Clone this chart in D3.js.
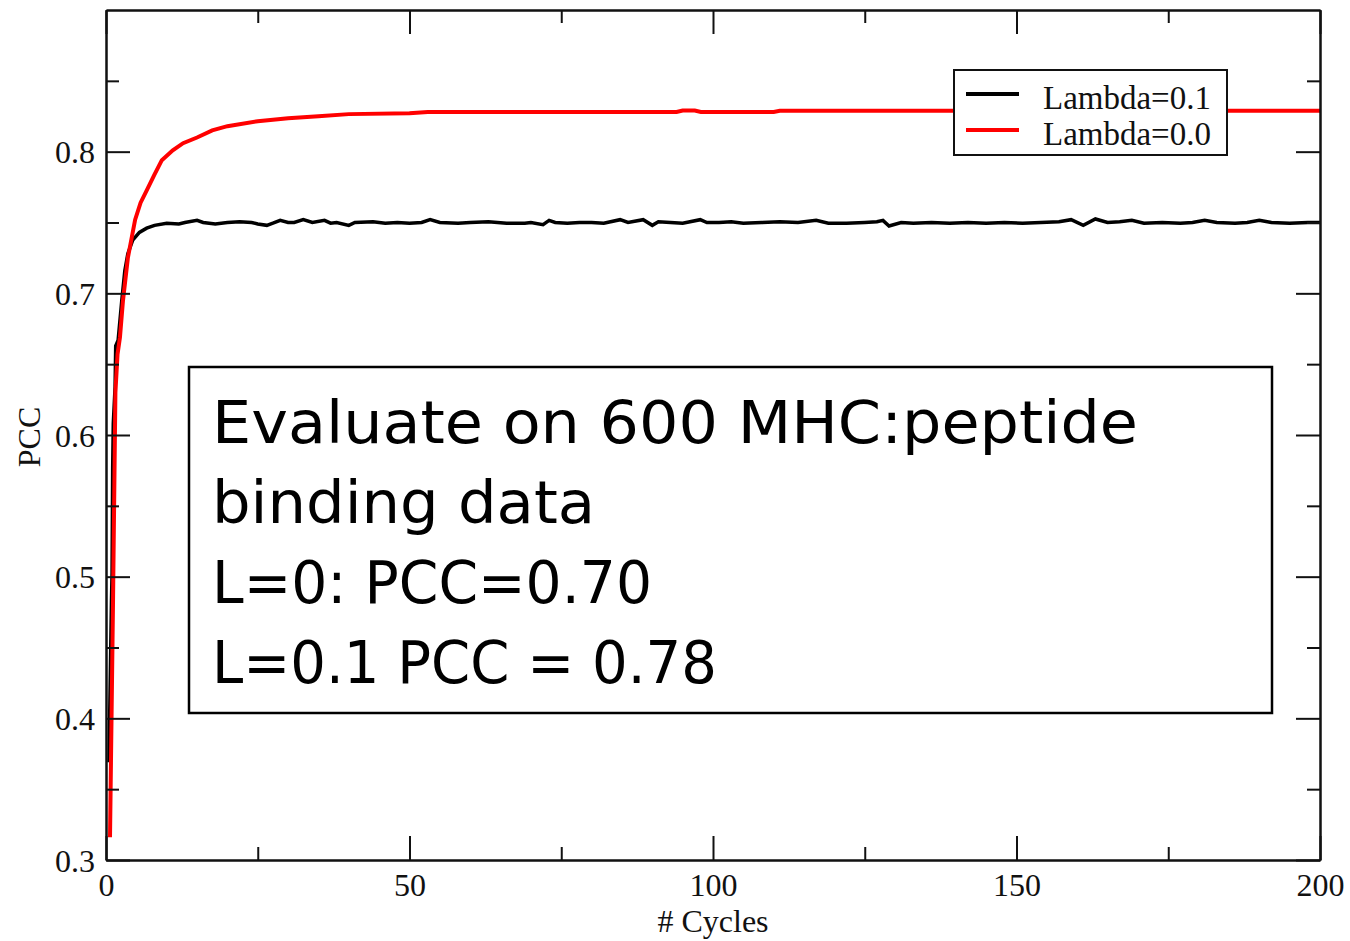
<!DOCTYPE html>
<html>
<head>
<meta charset="utf-8">
<script src="https://cdn.jsdelivr.net/npm/d3@7"></script>
<style>
  body { margin: 0; background: #fff; }
  svg { display: block; }
  .tick-label { font-family: 'Liberation Serif', 'Times New Roman', serif; font-size: 32px; fill: #111; }
  .legend-label { font-family: 'Liberation Serif', 'Times New Roman', serif; font-size: 33px; fill: #111; }
  .note { font-family: 'DejaVu Sans', sans-serif; fill: #000; }
</style>
</head>
<body>
<div class="display"></div>
<script>
// PCC vs training cycles for two lambda values

const WIDTH = 1350;
const HEIGHT = 941;
const PLOT_LEFT = 106;
const PLOT_RIGHT = 1320;
const PLOT_TOP = 10;
const PLOT_BOTTOM = 860;

const MAJOR_TICK = 24;
const MINOR_TICK = 13;

// ticks
const xMajorTicks = [0, 50, 100, 150, 200];
const xMinorTicks = [25, 75, 125, 175];
const yMajorTicks = [0.3, 0.4, 0.5, 0.6, 0.7, 0.8];
const yMinorTicks = [0.35, 0.45, 0.55, 0.65, 0.75, 0.85];

// Lambda=0.1 (black)
const lambda01Cycles = [0.5, 0.6, 0.9, 1.0, 1.1, 1.2, 1.5, 1.6, 2.0, 2.6, 3.1, 3.6, 4.4, 5.5, 6.7, 8, 10, 12, 13, 15, 16, 18, 20,
  22, 24, 25, 26.5, 27.5, 28.7, 30, 31, 32.5, 34, 36, 37, 38, 40, 41, 44, 46, 48, 50, 52, 53.4, 55, 58, 60, 63, 66, 69, 70,
  72, 73, 74, 76, 78, 80, 82, 84.7, 86, 88.5, 90, 91, 93, 95, 97.9, 99, 101, 103, 105, 108, 111, 114, 117, 119, 122, 125,
  127, 128, 129, 131, 133, 136, 139, 142, 145, 148, 151, 154, 157, 159, 161, 163, 165, 167, 169, 171, 174, 177, 179, 181,
  183, 186, 188, 190, 192, 195, 198, 200];
const lambda01Pcc = [0.369, 0.400, 0.483, 0.503, 0.577, 0.608, 0.634, 0.663, 0.667, 0.695, 0.716, 0.728, 0.7375, 0.743, 0.746,
  0.748, 0.7495, 0.749, 0.750, 0.7515, 0.750, 0.749, 0.750,
  0.7505, 0.750, 0.749, 0.748, 0.7495, 0.7515, 0.750, 0.750, 0.752, 0.750, 0.7515, 0.7495, 0.750, 0.748, 0.750, 0.7505,
  0.7495, 0.750, 0.7495, 0.750, 0.752, 0.750, 0.7495, 0.750, 0.7505, 0.7495, 0.7495, 0.750,
  0.7485, 0.7515, 0.750, 0.7495, 0.750, 0.750, 0.7495, 0.752, 0.750, 0.752, 0.748, 0.7505, 0.750, 0.7495, 0.752, 0.750,
  0.750, 0.7505, 0.7495, 0.750, 0.7505, 0.750, 0.7515, 0.7495, 0.7495, 0.750,
  0.7505, 0.7515, 0.7475, 0.750, 0.7495, 0.750, 0.7495, 0.750, 0.7495, 0.750, 0.7495, 0.750, 0.7505, 0.752, 0.748, 0.7525,
  0.750, 0.7505, 0.7515, 0.7495, 0.750, 0.7495, 0.750, 0.7515,
  0.750, 0.7495, 0.750, 0.7515, 0.750, 0.7495, 0.750, 0.750];

// Lambda=0.0 (red)
const lambda00Cycles = [0.66, 1.15, 1.55, 1.9, 2.3, 2.8, 3.6, 4.8, 5.7, 6.75, 8, 9.2, 11, 12.7, 15, 17.5, 20, 25, 30, 35, 40,
  50, 53, 94, 95, 97, 98, 110, 111, 200];
const lambda00Pcc = [0.316, 0.480, 0.630, 0.657, 0.669, 0.695, 0.725, 0.752, 0.764, 0.773, 0.784, 0.794, 0.801, 0.806, 0.810,
  0.815, 0.818, 0.8215, 0.8236, 0.825, 0.8265, 0.8272, 0.828, 0.828, 0.829, 0.829, 0.828, 0.828, 0.8288, 0.8288];

const seriesNames = ['Lambda=0.1', 'Lambda=0.0'];
const seriesColors = ['#000000', '#ff0000'];

const noteLines = ['Evaluate on 600 MHC:peptide', 'binding data', 'L=0: PCC=0.70', 'L=0.1 PCC = 0.78'];
const noteWidths = [926, 383, 440, 505]; // line widths in the reference, handwriting font

const svg = d3.select('.display')
  .append('svg')
  .attr('width', WIDTH)
  .attr('height', HEIGHT);

const x = d3.scaleLinear().domain([0, 200]).range([PLOT_LEFT, PLOT_RIGHT]);
const y = d3.scaleLinear().domain([0.3, 0.9]).range([PLOT_BOTTOM, PLOT_TOP]);

// Curves first, frame drawn over them
const line = d3.line().x(d => x(d[0])).y(d => y(d[1]));
const series = [
  d3.zip(lambda01Cycles, lambda01Pcc),
  d3.zip(lambda00Cycles, lambda00Pcc)
];
svg.selectAll('.curve')
  .data(series)
  .enter()
  .append('path')
  .attr('class', 'curve')
  .attr('d', line)
  .attr('fill', 'none')
  .attr('stroke', (d, i) => seriesColors[i])
  .attr('stroke-width', (d, i) => i === 0 ? 3.5 : 4)
  .attr('stroke-linejoin', 'miter');

// Draw an axis pair (major + minor), ticks pointing into the plot
function drawAxis(axisFn, scale, transform, labelFormat) {
  const horizontal = axisFn === d3.axisBottom || axisFn === d3.axisTop;
  const major = svg.append('g')
    .attr('transform', transform)
    .call(axisFn(scale).tickValues(horizontal ? xMajorTicks : yMajorTicks)
      .tickSizeInner(-MAJOR_TICK).tickSizeOuter(0).tickPadding(12)
      .tickFormat(labelFormat ? d3.format(labelFormat) : ''));
  const minor = svg.append('g')
    .attr('transform', transform)
    .call(axisFn(scale).tickValues(horizontal ? xMinorTicks : yMinorTicks)
      .tickSizeInner(-MINOR_TICK).tickSizeOuter(0).tickFormat(''));
  [major, minor].forEach(g => {
    g.select('.domain').attr('stroke', '#111').attr('stroke-width', 2);
    g.selectAll('.tick line').attr('stroke', '#111').attr('stroke-width', 2);
    g.selectAll('.tick text').attr('class', 'tick-label').attr('font-family', null).attr('font-size', null);
  });
  return major;
}

const bottom = drawAxis(d3.axisBottom, x, `translate(0, ${PLOT_BOTTOM})`, 'd');
bottom.selectAll('.tick text').attr('dy', '0.85em').attr('y', 9);
drawAxis(d3.axisTop, x, `translate(0, ${PLOT_TOP})`, null);
const left = drawAxis(d3.axisLeft, y, `translate(${PLOT_LEFT}, 0)`, '.1f');
left.selectAll('.tick text').attr('x', -11).attr('dy', '0.35em');
drawAxis(d3.axisRight, y, `translate(${PLOT_RIGHT}, 0)`, null);

// Axis titles
svg.append('text')
  .attr('class', 'tick-label')
  .attr('transform', `translate(40, ${(PLOT_TOP + PLOT_BOTTOM) / 2 + 2}) rotate(-90)`)
  .attr('text-anchor', 'middle')
  .text('PCC');

svg.append('text')
  .attr('class', 'tick-label')
  .attr('x', 713)
  .attr('y', 932)
  .attr('text-anchor', 'middle')
  .text('# Cycles');

// Legend
const legend = svg.append('g').attr('transform', 'translate(954, 70)');
legend.append('rect')
  .attr('width', 273)
  .attr('height', 85)
  .attr('fill', '#fff')
  .attr('stroke', '#111')
  .attr('stroke-width', 2);
seriesNames.forEach((name, i) => {
  legend.append('line')
    .attr('x1', 12).attr('x2', 65)
    .attr('y1', 24 + i * 36).attr('y2', 24 + i * 36)
    .attr('stroke', seriesColors[i])
    .attr('stroke-width', 4);
  legend.append('text')
    .attr('class', 'legend-label')
    .attr('x', 89)
    .attr('y', 39 + i * 36)
    .text(name);
});

// Annotation box
const note = svg.append('g').attr('transform', 'translate(189, 367)');
note.append('rect')
  .attr('width', 1083)
  .attr('height', 346)
  .attr('fill', '#fff')
  .attr('stroke', '#000')
  .attr('stroke-width', 2.5);
noteLines.forEach((t, i) => {
  note.append('text')
    .attr('class', 'note')
    .attr('x', 23)
    .attr('y', 76 + i * 80)
    .attr('font-size', 58)
    .attr('textLength', noteWidths[i])
    .attr('lengthAdjust', 'spacingAndGlyphs')
    .text(t);
});
</script>
</body>
</html>
